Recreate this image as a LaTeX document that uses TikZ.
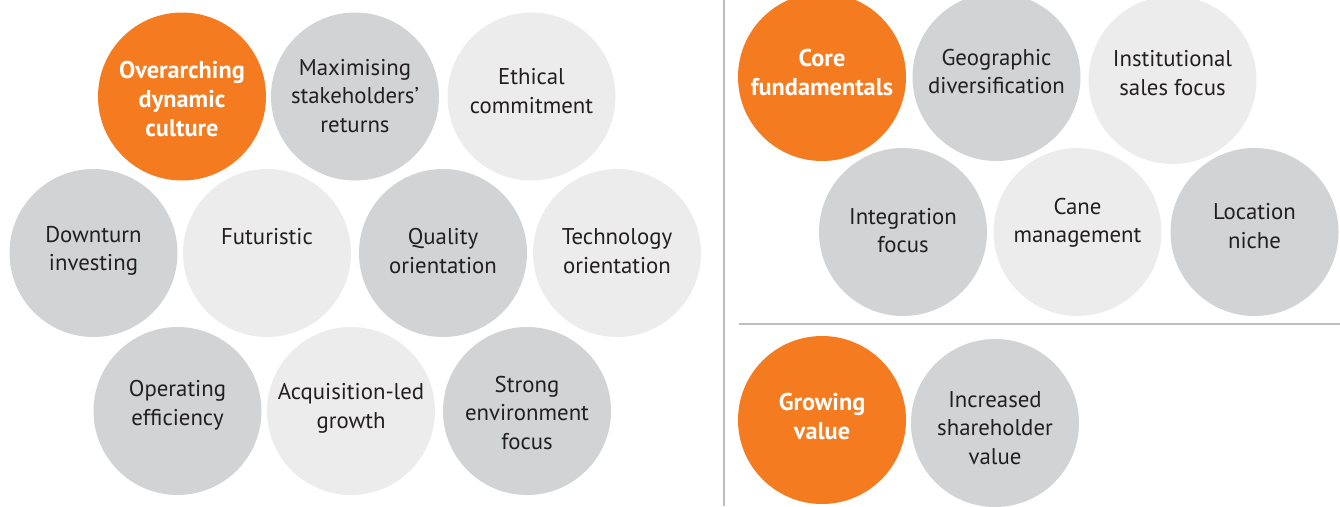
\documentclass[tikz,border=0pt]{standalone}
\usepackage{fontspec}
\setmainfont{PT Sans}
\definecolor{orng}{HTML}{F47B20}
\definecolor{dgray}{HTML}{D1D3D4}
\definecolor{lgray}{HTML}{ECECEC}
\definecolor{ink}{HTML}{231F20}
\definecolor{rule}{HTML}{BCBEC0}
\tikzset{
  x=1pt, y=-1pt,
  disc/.style={circle, minimum size=168pt, inner sep=0pt, draw=none},
  od/.style={fill=orng},
  dd/.style={fill=dgray},
  ld/.style={fill=lgray},
  txt/.style={align=center, inner sep=0pt, text=ink, font=\fontsize{22.8}{28.5}\selectfont},
  wtxt/.style={txt, text=white, font=\fontsize{24.3}{29}\selectfont\bfseries},
}
\begin{document}
\begin{tikzpicture}
\useasboundingbox (0,0) rectangle (1340,506);
% left panel
\node[disc,od] (c1) at (182,96.5) {};
\node[disc,dd] (c2) at (355,96.5) {};
\node[disc,ld] (c3) at (531.5,96.5) {};
\node[disc,dd] (c4) at (93.5,253) {};
\node[disc,ld] (c5) at (267,253) {};
\node[disc,dd] (c6) at (443,253) {};
\node[disc,ld] (c7) at (617,253) {};
\node[disc,dd] (c8) at (177.5,411) {};
\node[disc,ld] (c9) at (351,411) {};
\node[disc,dd] (c10) at (527,411) {};
\node[wtxt] (t1) at (c1|-0,99) {Overarching\\dynamic\\culture};
\node[txt] (t2) at (c2|-0,96) {Maximising\\stakeholders’\\returns};
\node[txt] (t3) at (c3|-0,91) {Ethical\\commitment};
\node[txt] (t4) at (c4|-0,251) {Downturn\\investing};
\node[txt] (t5) at (c5|-0,237) {Futuristic};
\node[txt] (t6) at (c6|-0,251) {Quality\\orientation};
\node[txt] (t7) at (c7|-0,251) {Technology\\orientation};
\node[txt] (t8) at (c8|-0,405) {Operating\\efficiency};
\node[txt] (t9) at (c9|-0,408.5) {Acquisition-led\\growth};
\node[txt] (t10) at (c10|-0,413) {Strong\\environment\\focus};
% dividers
\coordinate (v1) at (724,0);
\coordinate (v2) at (724,506);
\draw[rule, line width=1.6pt] (v1) -- (v2);
\coordinate (h1) at (739,324);
\coordinate (h2) at (1340,324);
\draw[rule, line width=1.6pt] (h1) -- (h2);
% right panel top
\node[disc,od] (e1) at (822,77) {};
\node[disc,dd] (e2) at (996.5,77) {};
\node[disc,ld] (e3) at (1172.5,80) {};
\node[disc,dd] (e4) at (903,232) {};
\node[disc,ld] (e5) at (1077.5,232) {};
\node[disc,dd] (e6) at (1254.5,232) {};
\node[wtxt] (s1) at (e1|-0,72.5) {Core\\fundamentals};
\node[txt] (s2) at (e2|-0,71.5) {Geographic\\diversification};
\node[txt] (s3) at (e3|-0,73) {Institutional\\sales focus};
\node[txt] (s4) at (e4|-0,230.5) {Integration\\focus};
\node[txt] (s5) at (e5|-0,223) {Cane\\management};
\node[txt] (s6) at (e6|-0,226) {Location\\niche};
% right panel bottom
\node[disc,od] (e7) at (822,420) {};
\node[disc,dd] (e8) at (995,423) {};
\node[wtxt] (s7) at (e7|-0,416) {Growing\\value};
\node[txt] (s8) at (e8|-0,428) {Increased\\shareholder\\value};
\end{tikzpicture}
\end{document}
